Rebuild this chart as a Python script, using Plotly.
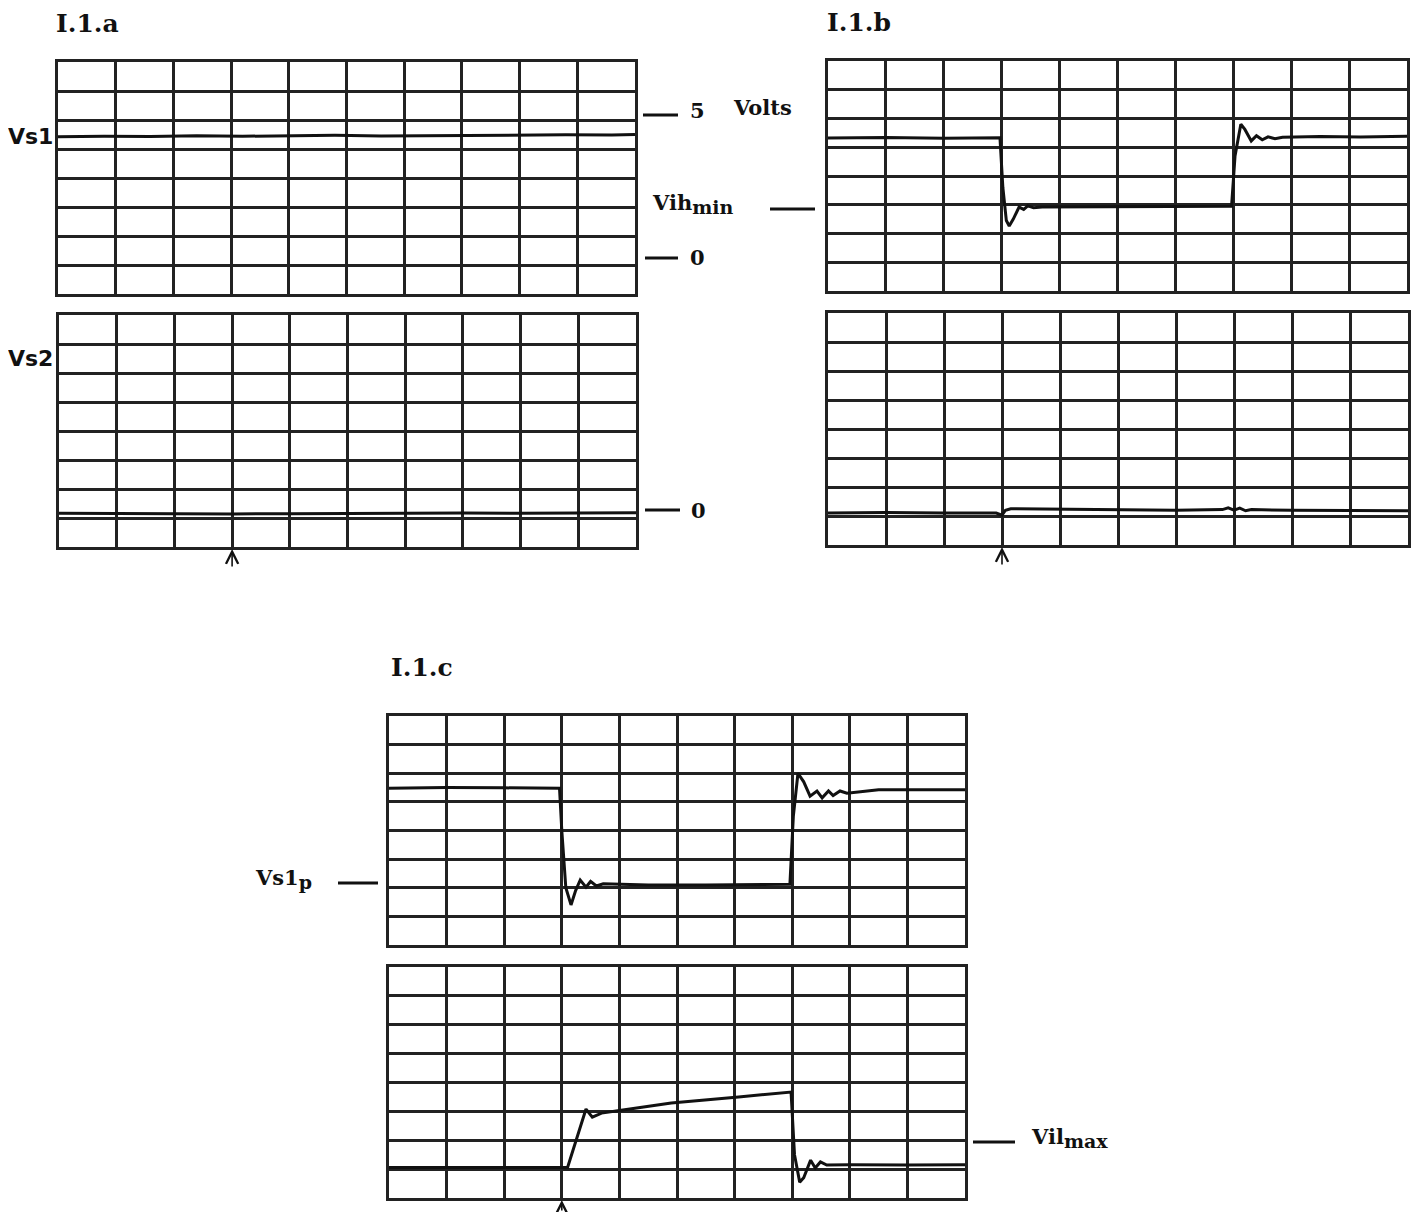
import plotly.graph_objects as go

# page geometry: the browser body adds an 8 px margin around the figure
PAGE_W, PAGE_H, BODY = 1423, 1220, 8
W, H = PAGE_W - 2 * BODY, PAGE_H - 2 * BODY

# ---------------- data (oscilloscope divisions: x 0..10, y 0..8) ----------------
n_cols, n_rows = 10, 8
trigger_pos = 3
trigger_level = 3.7

a_vs1_x = [0, 0.8, 1.6, 2.4, 3.2, 4.0, 4.8, 5.6, 6.4, 7.2, 8.0, 8.8, 9.6, 10]
a_vs1_y = [5.42, 5.44, 5.43, 5.46, 5.44, 5.45, 5.47, 5.45, 5.46, 5.48, 5.47, 5.49, 5.48, 5.5]

a_vs2_x = [0, 1.0, 2.0, 3.0, 4.0, 5.0, 6.0, 7.0, 8.0, 9.0, 10]
a_vs2_y = [1.16, 1.15, 1.16, 1.14, 1.15, 1.16, 1.15, 1.17, 1.16, 1.17, 1.18]

b_vs1_x = [0, 1.0, 2.0, 2.97, 3.02, 3.08, 3.13, 3.2, 3.3, 3.38, 3.45, 3.55, 3.7, 4.5,
           5.5, 6.5, 6.97, 7.03, 7.13, 7.2, 7.31, 7.4, 7.5, 7.6, 7.72, 7.85, 8.5, 9.2, 10]
b_vs1_y = [5.32, 5.34, 5.31, 5.33, 3.6, 2.45, 2.26, 2.5, 2.92, 2.84, 2.96, 2.9, 2.92, 2.93,
           2.92, 2.94, 2.95, 4.7, 5.8, 5.62, 5.22, 5.4, 5.26, 5.36, 5.3, 5.35, 5.37, 5.36, 5.38]

b_vs2_x = [0, 1.0, 2.0, 2.9, 3.0, 3.06, 3.15, 4.0, 5.0, 6.0, 6.8, 6.9, 7.0, 7.1, 7.2, 7.3, 8.0, 9.0, 10]
b_vs2_y = [1.1, 1.12, 1.1, 1.1, 1.03, 1.2, 1.25, 1.24, 1.22, 1.2, 1.22, 1.28, 1.2, 1.27, 1.18, 1.22, 1.2, 1.18, 1.18]

c_vs1_x = [0, 1.0, 2.0, 2.96, 3.0, 3.07, 3.16, 3.24, 3.32, 3.42, 3.5, 3.6, 3.72, 4.5, 5.5,
           6.5, 6.96, 7.02, 7.1, 7.2, 7.31, 7.43, 7.52, 7.63, 7.71, 7.83, 7.95, 8.5, 9.2, 10]
c_vs1_y = [5.48, 5.5, 5.49, 5.48, 4.0, 2.0, 1.4, 1.9, 2.27, 2.02, 2.22, 2.06, 2.14, 2.1, 2.1,
           2.12, 2.12, 4.5, 6.0, 5.7, 5.2, 5.38, 5.14, 5.38, 5.22, 5.38, 5.3, 5.42, 5.43, 5.42]

c_vs2_x = [0, 1.0, 2.0, 3.1, 3.42, 3.53, 3.69, 4.03, 4.9, 6.07, 6.98, 7.04, 7.13, 7.2,
           7.32, 7.4, 7.49, 7.6, 8.0, 9.0, 10]
c_vs2_y = [1.06, 1.07, 1.06, 1.06, 3.08, 2.8, 2.94, 3.04, 3.29, 3.5, 3.67, 1.5, 0.55, 0.7,
           1.31, 1.04, 1.25, 1.14, 1.15, 1.14, 1.15]

# ---------------- layout (page-pixel boxes of the six screens) ----------------
panels = {
    "a1": (58, 62, 635, 294),
    "a2": (59, 315, 636, 547),
    "b1": (828, 61, 1407, 291),
    "b2": (828, 313, 1408, 545),
    "c1": (389, 716, 965, 945),
    "c2": (389, 967, 965, 1198),
}
traces = {
    "a1": (a_vs1_x, a_vs1_y),
    "a2": (a_vs2_x, a_vs2_y),
    "b1": (b_vs1_x, b_vs1_y),
    "b2": (b_vs2_x, b_vs2_y),
    "c1": (c_vs1_x, c_vs1_y),
    "c2": (c_vs2_x, c_vs2_y),
}


def px(x):
    return (x - BODY) / W


def py(y):
    return 1 - (y - BODY) / H


GRID = "#222222"
INK = "#111111"

fig = go.Figure()
layout = dict(width=W, height=H, margin=dict(l=0, r=0, t=0, b=0),
              paper_bgcolor="white", plot_bgcolor="white", showlegend=False)

for i, (key, (l, t, r, b)) in enumerate(panels.items(), start=1):
    xs = "" if i == 1 else str(i)
    layout["xaxis" + xs] = dict(domain=[px(l), px(r)], range=[0, n_cols], dtick=1, tick0=0,
                                showgrid=True, gridcolor=GRID, gridwidth=3,
                                showline=True, linecolor=GRID, linewidth=3, mirror=True,
                                zeroline=False, showticklabels=False, ticks="",
                                anchor="y" + xs, fixedrange=True)
    layout["yaxis" + xs] = dict(domain=[py(b), py(t)], range=[0, n_rows], dtick=1, tick0=0,
                                showgrid=True, gridcolor=GRID, gridwidth=3,
                                showline=True, linecolor=GRID, linewidth=3, mirror=True,
                                zeroline=False, showticklabels=False, ticks="",
                                anchor="x" + xs, fixedrange=True)
    tx, ty = traces[key]
    fig.add_trace(go.Scatter(x=tx, y=ty, mode="lines", xaxis="x" + xs, yaxis="y" + xs,
                             line=dict(color=INK, width=3), hoverinfo="skip"))
    if key.endswith("1"):
        fig.add_trace(go.Scatter(x=[-0.07, n_cols + 0.07], y=[trigger_level, trigger_level],
                                 mode="markers", xaxis="x" + xs, yaxis="y" + xs,
                                 marker=dict(symbol=["triangle-right", "triangle-left"], size=8, color=INK),
                                 cliponaxis=False, hoverinfo="skip"))

fig.update_layout(**layout)

annotations = []
title_font = dict(family="DejaVu Serif", size=25, color=INK)
label_font = dict(family="DejaVu Serif", size=21, color=INK)
hand_font = dict(family="DejaVu Sans", size=22, color=INK)


def label(text, x, y, font, anchor="left"):
    annotations.append(dict(text=text, x=px(x), y=py(y), xref="paper", yref="paper",
                            xanchor=anchor, yanchor="middle", showarrow=False, font=font))


SUB = '<sub><span style="font-size:19px">%s</span></sub>'

label("<b>I.1.a</b>", 54, 24, title_font)
label("<b>I.1.b</b>", 825, 22, title_font)
label("<b>I.1.c</b>", 389, 667, title_font)
label("<b>Vs1</b>", 6, 136, hand_font)
label("<b>Vs2</b>", 6, 358, hand_font)
label("<b>5</b>", 688, 110, label_font)
label("<b>Volts</b>", 731, 108, label_font)
label("<b>Vih" + SUB % "min" + "</b>", 650, 204, label_font)
label("<b>0</b>", 688, 258, label_font)
label("<b>0</b>", 689, 510, label_font)
label("<b>Vs1" + SUB % "p" + "</b>", 253, 879, label_font)
label("<b>Vil" + SUB % "max" + "</b>", 1029, 1138, label_font)

# trigger-position arrows under the lower screens
for xs in ["2", "4", "6"]:
    annotations.append(dict(text="", x=trigger_pos, y=0, xref="x" + xs, yref="y" + xs + " domain",
                            showarrow=True, ax=0, ay=21, arrowhead=5, arrowsize=1.5,
                            arrowwidth=1.6, arrowcolor=INK, standoff=2))

dashes = [(643, 678, 115), (770, 815, 209), (645, 678, 258), (645, 680, 510),
          (338, 378, 883), (973, 1015, 1142)]
shapes = [dict(type="line", xref="paper", yref="paper", x0=px(x0), x1=px(x1), y0=py(y), y1=py(y),
               line=dict(color=INK, width=3)) for x0, x1, y in dashes]

fig.update_layout(annotations=annotations, shapes=shapes)
fig.write_html("out.html")
